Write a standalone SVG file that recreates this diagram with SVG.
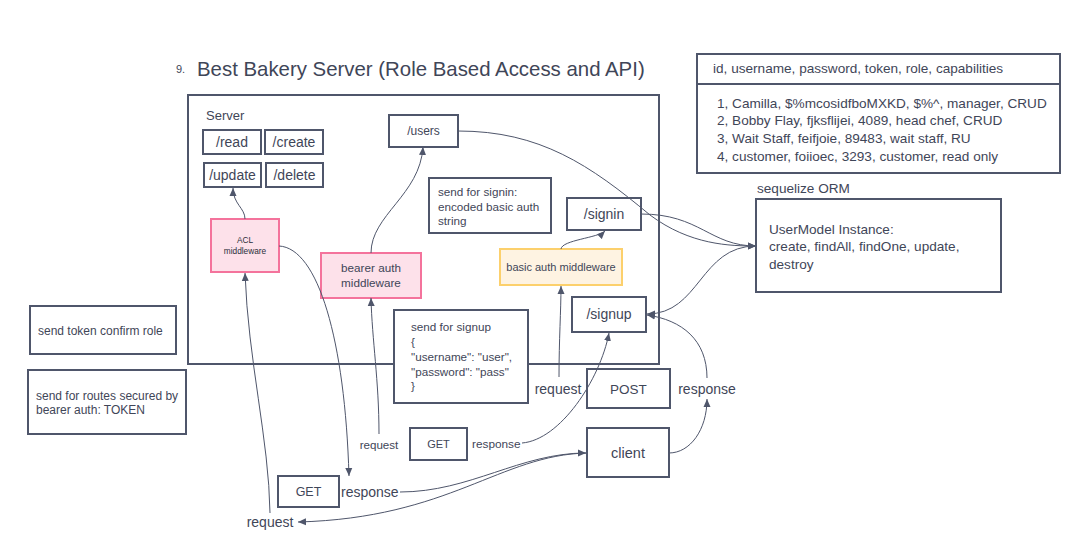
<svg xmlns="http://www.w3.org/2000/svg" width="1083" height="552" viewBox="0 0 1083 552">
<style>
text{font-family:"Liberation Sans",Arial,sans-serif;fill:#3f4658}
.box{fill:#fff;stroke:#4f566b;stroke-width:2}
.pink{fill:#fde1ea;stroke:#f4739c;stroke-width:2}
.amber{fill:#fef3e2;stroke:#fcd06c;stroke-width:2}
.c{fill:none;stroke:#4f566b;stroke-width:1}
.m{text-anchor:middle}
</style>
<defs>
<marker id="a" markerUnits="userSpaceOnUse" markerWidth="8" markerHeight="8" viewBox="0 0 8 8" refX="8" refY="4" orient="auto">
<path d="M0,0.5 L8,4 L0,7.5 z" fill="#4f566b"/>
</marker>
</defs>
<rect width="1083" height="552" fill="#fff"/>
<text x="176" y="73" font-size="11">9.</text>
<text x="197" y="76" font-size="20.4">Best Bakery Server (Role Based Access and API)</text>

<g id="server"><rect class="box" x="188" y="95" width="471" height="269"/><text x="206" y="120" font-size="13">Server</text></g>
<g id="read"><rect class="box" x="203" y="130" width="58" height="24"/><text class="m" x="232" y="147" font-size="14">/read</text></g>
<g id="create"><rect class="box" x="265" y="130" width="58" height="24"/><text class="m" x="294" y="147" font-size="14">/create</text></g>
<g id="update"><rect class="box" x="204" y="163" width="57" height="24"/><text class="m" x="232.5" y="180" font-size="14">/update</text></g>
<g id="delete"><rect class="box" x="266" y="163" width="57" height="24"/><text class="m" x="294.5" y="180" font-size="14">/delete</text></g>
<g id="users"><rect class="box" x="389" y="115" width="69" height="32"/><text class="m" x="423.5" y="135" font-size="12">/users</text></g>
<g id="signin-note"><rect class="box" x="429" y="178" width="122" height="55"/><text x="438" y="196" font-size="11.7">send for signin:</text><text x="438" y="210.5" font-size="11.7">encoded basic auth</text><text x="438" y="225" font-size="11.7">string</text></g>
<g id="signin"><rect class="box" x="567" y="198" width="74" height="32"/><text class="m" x="604" y="219" font-size="14">/signin</text></g>
<g id="acl"><rect class="pink" x="211" y="219" width="68" height="53"/><text class="m" x="245" y="243" font-size="8.3" style="fill:#2a2f3a">ACL</text><text class="m" x="245" y="254" font-size="8.3" style="fill:#2a2f3a">middleware</text></g>
<g id="bearer"><rect class="pink" x="321" y="253" width="100" height="45"/><text class="m" x="371" y="272" font-size="11.7">bearer auth</text><text class="m" x="371" y="286.5" font-size="11.7">middleware</text></g>
<g id="basic"><rect class="amber" x="500" y="249" width="122" height="36"/><text class="m" x="561" y="271" font-size="11">basic auth middleware</text></g>
<g id="signup"><rect class="box" x="572" y="297" width="74" height="35"/><text class="m" x="609" y="319" font-size="14">/signup</text></g>
<g id="signup-note"><rect class="box" x="394" y="310" width="134" height="93"/><text x="411" y="331" font-size="11.7">send for signup</text><text x="411" y="346" font-size="11.7">{</text><text x="411" y="360.5" font-size="11.7">"username": "user",</text><text x="411" y="375.5" font-size="11.7">"password":  "pass"</text><text x="411" y="390" font-size="11.7">}</text></g>

<g id="table"><rect class="box" x="697" y="54" width="363" height="119"/><line x1="697" y1="84" x2="1060" y2="84" stroke="#4f566b" stroke-width="2"/>
<text x="713" y="73" font-size="13.6">id, username, password, token, role, capabilities</text>
<text x="717" y="107.5" font-size="13.6">1, Camilla, $%mcosidfboMXKD, $%^, manager, CRUD</text>
<text x="717" y="125" font-size="13.6">2, Bobby Flay, fjksflijei, 4089, head chef, CRUD</text>
<text x="717" y="143" font-size="13.6">3, Wait Staff, feifjoie, 89483, wait staff, RU</text>
<text x="717" y="160.5" font-size="13.6">4, customer, foiioec, 3293, customer, read only</text></g>
<text x="757" y="192.5" font-size="13.6">sequelize ORM</text>
<g id="usermodel"><rect class="box" x="756" y="199" width="245" height="93"/><text x="769" y="234" font-size="13.6">UserModel Instance:</text><text x="769" y="251" font-size="13.6">create, findAll, findOne, update,</text><text x="769" y="269" font-size="13.6">destroy</text></g>

<g id="note-token"><rect class="box" x="30" y="306" width="146" height="48"/><text x="38" y="334.5" font-size="12">send token confirm role</text></g>
<g id="note-bearer"><rect class="box" x="28" y="370" width="158" height="64"/><text x="36" y="399.5" font-size="12">send for routes secured by</text><text x="36" y="414" font-size="12">bearer auth: TOKEN</text></g>

<g id="post"><rect class="box" x="587" y="369" width="83" height="39"/><text class="m" x="628.5" y="393.5" font-size="13.5">POST</text></g>
<g id="get-mid"><rect class="box" x="410" y="428" width="57" height="32"/><text class="m" x="438.5" y="448" font-size="11">GET</text></g>
<g id="client"><rect class="box" x="587" y="428" width="82" height="49"/><text class="m" x="628" y="458" font-size="14.5">client</text></g>
<g id="get-bot"><rect class="box" x="278" y="476" width="61" height="31"/><text class="m" x="308.5" y="496" font-size="12.5">GET</text></g>

<g id="labels">
<text class="m" x="558" y="394" font-size="14">request</text>
<text class="m" x="707" y="394" font-size="14">response</text>
<text class="m" x="379" y="448.5" font-size="11.6">request</text>
<text x="472" y="447.5" font-size="11.8">response</text>
<text x="341" y="496.5" font-size="14">response</text>
<text class="m" x="270" y="527" font-size="14">request</text>
</g>

<g id="connectors" class="c">
<path class="c" d="M245,219 C245,208 233,204 233,188" marker-end="url(#a)"/>
<path class="c" d="M371,253 C371,215 420,195 423,147" marker-end="url(#a)"/>
<path class="c" d="M561,249 C562,240 598,238 605,231" marker-end="url(#a)"/>
<path class="c" d="M458,131 C540,131 590,165 650,215 C690,245 730,246 756,246" marker-end="url(#a)"/>
<path class="c" d="M641,214 C700,214 710,246 756,246" marker-end="url(#a)"/>
<path class="c" d="M756,246 C700,246 700,314 647,314" marker-end="url(#a)"/>
<path class="c" d="M669,453 C690,453 707,430 707,399" marker-end="url(#a)"/>
<path class="c" d="M707,378 C707,340 682,320 647,315" marker-end="url(#a)"/>
<path class="c" d="M559,377 C559,340 561,310 561,286" marker-end="url(#a)"/>
<path class="c" d="M522,443 C560,440 600,380 609,333" marker-end="url(#a)"/>
<path class="c" d="M379,434 C379,380 372,340 371,298" marker-end="url(#a)"/>
<path class="c" d="M279,246 C318,248 345,340 349,476" marker-end="url(#a)"/>
<path class="c" d="M270,513 C269,440 248,360 245,273" marker-end="url(#a)"/>
<path class="c" d="M400,492 C470,492 520,453 586,453" marker-end="url(#a)"/>
<path class="c" d="M587,453 C500,455 450,518 298,522" marker-end="url(#a)"/>
</g>
</svg>
